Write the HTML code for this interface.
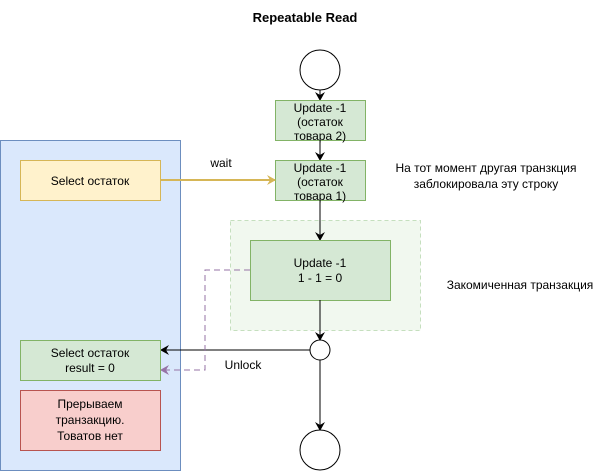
<!DOCTYPE html>
<html><head><meta charset="utf-8"><style>body{margin:0;background:#fff}</style></head><body>
<svg width="611" height="471" xmlns="http://www.w3.org/2000/svg" font-family="Liberation Sans, sans-serif" font-size="12">
<defs>
<marker id="a" markerWidth="10" markerHeight="10" refX="8" refY="5" orient="auto" markerUnits="userSpaceOnUse"><path d="M0,0 L9,5 L0,10 L3,5z" fill="#000"/></marker>
<marker id="y" markerWidth="10" markerHeight="10" refX="8" refY="5" orient="auto" markerUnits="userSpaceOnUse"><path d="M0,0 L9,5 L0,10 L3,5z" fill="#d6b656"/></marker>
<marker id="p" markerWidth="10" markerHeight="10" refX="8" refY="5" orient="auto" markerUnits="userSpaceOnUse"><path d="M0,0 L9,5 L0,10 L3,5z" fill="#9673a6"/></marker>
</defs>
<text x="305" y="22" text-anchor="middle" font-weight="bold" font-size="13">Repeatable Read</text>
<rect x="0.5" y="140.5" width="180" height="330" fill="#dae8fc" stroke="#6c8ebf"/>
<rect x="230.5" y="220.5" width="190" height="110" fill="#f1f8ef" stroke="#c5dfbe" stroke-dasharray="4 3"/>
<circle cx="320" cy="70" r="20" fill="#fff" stroke="#000"/>
<line x1="320" y1="90" x2="320" y2="100" stroke="#000" marker-end="url(#a)"/>
<rect x="275.5" y="100.5" width="90" height="40" fill="#d5e8d4" stroke="#82b366"/>
<text text-anchor="middle" x="320"><tspan x="320" y="112">Update -1</tspan><tspan x="320" y="126">(остаток</tspan><tspan x="320" y="140">товара 2)</tspan></text>
<line x1="320" y1="140" x2="320" y2="160" stroke="#000" marker-end="url(#a)"/>
<rect x="275.5" y="160.5" width="90" height="40" fill="#d5e8d4" stroke="#82b366"/>
<text text-anchor="middle"><tspan x="320" y="172">Update -1</tspan><tspan x="320" y="186">(остаток</tspan><tspan x="320" y="200">товара 1)</tspan></text>
<line x1="320" y1="195" x2="320" y2="240" stroke="#000" marker-end="url(#a)"/>
<rect x="250.5" y="240.5" width="140" height="60" fill="#d5e8d4" stroke="#82b366"/>
<text text-anchor="middle"><tspan x="320" y="267">Update -1</tspan><tspan x="320" y="282">1 - 1 = 0</tspan></text>
<line x1="320" y1="300" x2="320" y2="340" stroke="#000" marker-end="url(#a)"/>
<circle cx="320" cy="350" r="10" fill="#fff" stroke="#000"/>
<line x1="310" y1="350" x2="161" y2="350" stroke="#000" marker-end="url(#a)"/>
<line x1="320" y1="360" x2="320" y2="430" stroke="#000" marker-end="url(#a)"/>
<circle cx="320" cy="450" r="20" fill="#fff" stroke="#000"/>
<path d="M250,270 H205 V370 H161" fill="none" stroke="#9673a6" stroke-dasharray="6 4" marker-end="url(#p)"/>
<rect x="20.5" y="160.5" width="140" height="40" fill="#fff2cc" stroke="#d6b656"/>
<text x="90" y="185" text-anchor="middle">Select остаток</text>
<line x1="160" y1="180" x2="275" y2="180" stroke="#d6b656" stroke-width="2" marker-end="url(#y)"/>
<text x="221" y="167" text-anchor="middle">wait</text>
<rect x="20.5" y="340.5" width="140" height="40" fill="#d5e8d4" stroke="#82b366"/>
<text text-anchor="middle"><tspan x="90" y="357">Select остаток</tspan><tspan x="90" y="372">result = 0</tspan></text>
<rect x="20.5" y="390.5" width="140" height="60" fill="#f8cecc" stroke="#b85450"/>
<text text-anchor="middle"><tspan x="90" y="408">Прерываем</tspan><tspan x="90" y="424">транзакцию.</tspan><tspan x="90" y="440">Товатов нет</tspan></text>
<text x="243" y="369" text-anchor="middle">Unlock</text>
<text text-anchor="middle"><tspan x="486" y="172">На тот момент другая транзкция</tspan><tspan x="486" y="188">заблокировала эту строку</tspan></text>
<text x="520" y="289" text-anchor="middle">Закомиченная транзакция</text>
</svg>
</body></html>
